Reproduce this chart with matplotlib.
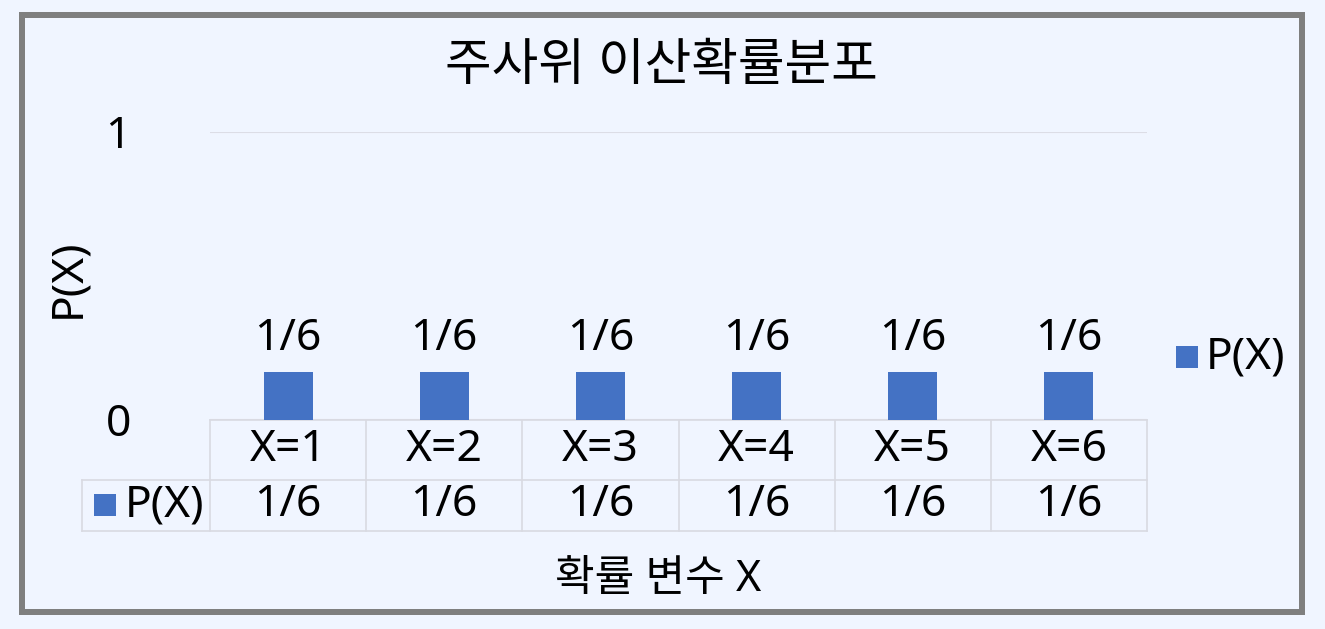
import matplotlib
matplotlib.use('Agg')
import matplotlib.pyplot as plt
from matplotlib.patches import Rectangle
import matplotlib.transforms as mtrans

categories = ['X=1', 'X=2', 'X=3', 'X=4', 'X=5', 'X=6']
values = [1/6, 1/6, 1/6, 1/6, 1/6, 1/6]
value_labels = ['1/6', '1/6', '1/6', '1/6', '1/6', '1/6']
series_name = 'P(X)'
title = '주사위 이산확률분포'
xlabel = '확률 변수 X'
ylabel = 'P(X)'
yticks = [0, 1]
ytick_labels = ['0', '1']

plt.rcParams['font.family'] = ['Noto Sans', 'Noto Sans CJK KR', 'DejaVu Sans']

W, H = 1325, 629
fig = plt.figure(figsize=(W / 100, H / 100), dpi=100)
bg = '#F0F5FF'
bar_color = '#4472C4'
grid_color = '#DCDDE6'
fig.patch.set_facecolor(bg)

def fx(px):
    return px / W

def fy(py):
    return 1 - py / H

FS = 32
ax = fig.add_axes([fx(210), fy(420), fx(1147) - fx(210), fy(132) - fy(420)])
ax.set_facecolor('none')
xs = list(range(len(categories)))
ax.bar(xs, values, width=0.314, color=bar_color, zorder=3)
ax.set_xlim(-0.5, len(categories) - 0.5)
ax.set_ylim(0, 1)
for s in ax.spines.values():
    s.set_visible(False)
ax.set_xticks([])
ax.set_yticks(yticks)
ax.set_yticklabels(ytick_labels, fontsize=FS)
ax.tick_params(axis='y', length=0, pad=57)
ax.yaxis.grid(True, color=grid_color, linewidth=1.5)
ax.set_axisbelow(True)

for xi, v, lab in zip(xs, values, value_labels):
    ax.annotate(lab, (xi, v), xytext=(0, 22), textcoords='offset pixels',
                ha='center', va='baseline', fontsize=FS)

# data table
tr = mtrans.blended_transform_factory(ax.transData, ax.transAxes)
r1 = -60 / 288
r2 = -111 / 288
left_x = -0.5 - 128 / 156
lc = '#D9DAE2'
lw = 1.2
n = len(categories)
ax.plot([-0.5, n - 0.5], [0, 0], transform=tr, color=lc, lw=lw, clip_on=False)
ax.plot([left_x, n - 0.5], [r1, r1], transform=tr, color=lc, lw=lw, clip_on=False)
ax.plot([left_x, n - 0.5], [r2, r2], transform=tr, color=lc, lw=lw, clip_on=False)
for b in range(n + 1):
    ax.plot([b - 0.5, b - 0.5], [0, r2], transform=tr, color=lc, lw=lw, clip_on=False)
ax.plot([left_x, left_x], [r1, r2], transform=tr, color=lc, lw=lw, clip_on=False)
for xi, cat, lab in zip(xs, categories, value_labels):
    ax.text(xi, r1 / 2, cat, transform=tr, ha='center', va='center', fontsize=FS)
    ax.text(xi, (r1 + r2) / 2, lab, transform=tr, ha='center', va='center', fontsize=FS)

# table legend key
sq = 22
fig.patches.append(Rectangle((fx(94), fy(516)), sq / W, sq / H, transform=fig.transFigure,
                             facecolor=bar_color, edgecolor='none'))
fig.text(fx(125), fy(505), series_name, ha='left', va='center', fontsize=FS)

# right legend
fig.patches.append(Rectangle((fx(1176), fy(368)), sq / W, sq / H, transform=fig.transFigure,
                             facecolor=bar_color, edgecolor='none'))
fig.text(fx(1206), fy(357), series_name, ha='left', va='center', fontsize=FS)

fig.text(fx(68), fy(278), ylabel, rotation=90, ha='center', va='center', fontsize=FS)
fig.text(fx(658), fy(580), xlabel, ha='center', va='center', fontsize=31)
fig.text(fx(661), fy(67), title, ha='center', va='center', fontsize=36.5)

# outer frame
fig.patches.append(Rectangle((fx(22), fy(612)), fx(1302) - fx(22), fy(15) - fy(612),
                             transform=fig.transFigure, fill=False,
                             edgecolor='#7F7F7F', linewidth=6 * 0.72))

fig.savefig('out.png', dpi=100, facecolor=bg)
